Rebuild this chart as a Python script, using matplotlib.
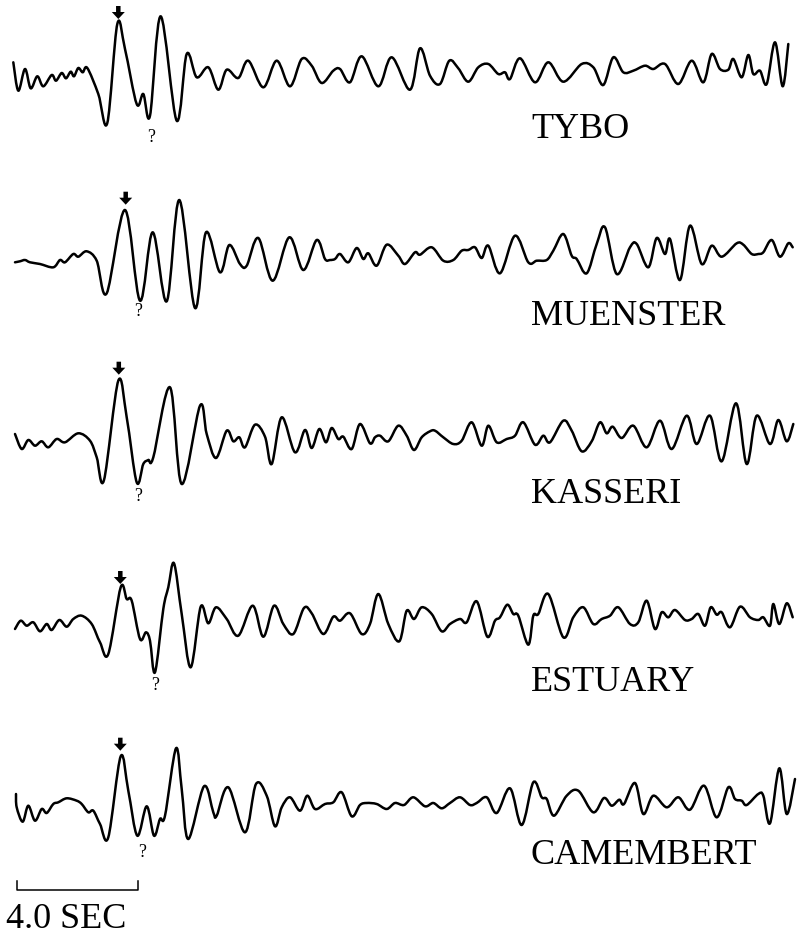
import numpy as np
import matplotlib
matplotlib.use("Agg")
import matplotlib.pyplot as plt
from matplotlib.path import Path
from matplotlib.patches import PathPatch, FancyArrow

# station names (top to bottom)
stations = ["TYBO", "MUENSTER", "KASSERI", "ESTUARY", "CAMEMBERT"]

tybo = np.array([
    [13.3, 63.3], [18.3, 91.7], [25, 70], [30.7, 89.3], [37.3, 77.3], [43.3, 87.3],
    [51.7, 76], [56, 81.7], [61.7, 74], [66, 79.3], [70.7, 72.7], [74, 77.3],
    [78.3, 69], [82.7, 73.3], [87.3, 69], [98.3, 95], [107.3, 124], [117.3, 25],
    [125, 50], [136.7, 105], [143.3, 95], [150, 116.7], [160.7, 17.3], [176.7, 121.7],
    [186.7, 55], [196.7, 78.3], [208.3, 68.3], [218.3, 90.7], [226.7, 70.7], [238.3, 79],
    [248.3, 61.7], [263.3, 88.3], [276.7, 61.7], [290, 87.3], [301.7, 60], [311.7, 66.7],
    [321.7, 84], [333.3, 71.7], [340, 70], [350, 83.3], [361.7, 57.3], [378.3, 87.3],
    [391.7, 58.3], [410, 90.7], [420, 49.3], [430, 76.7], [440, 85], [449.3, 61.7],
    [458.3, 69.3], [468.3, 82.7], [478.3, 68.3], [488.3, 65], [498.3, 75], [505, 73.3],
    [510, 80], [520, 59.3], [535, 83.3], [548.3, 63.3], [563.3, 82.7], [581.7, 65],
    [593.3, 68.3], [603.3, 86], [613.3, 58.3], [623.3, 73.3], [633.3, 71.7], [645, 66.7],
    [653.3, 70], [665, 65], [678.3, 85], [691.7, 61.7], [703.3, 83.3], [711.7, 55],
    [720, 70], [728.3, 70.7], [733.3, 60], [741.7, 78.3], [748.3, 56], [753.3, 75],
    [760, 71.7], [766.7, 85], [775, 43.3], [782.7, 87.3], [788.3, 45],
])

muenster = np.array([
    [15, 263.3], [20, 262.3], [25, 261], [30, 263.3], [40, 265], [53.3, 268.3],
    [60, 261], [65, 263.3], [73.3, 255], [78.3, 257.7], [86.7, 252.3], [96.7, 261.7],
    [106.7, 294.3], [125, 211], [140, 301.7], [152.7, 233.3], [166.7, 302.3], [179.3, 201],
    [195, 309], [206, 233.3], [220, 273.3], [229.3, 246], [240, 265], [246.7, 266.7],
    [258.3, 239], [272.7, 281.7], [289.3, 238.3], [303.3, 271], [316.7, 241], [325, 260],
    [330, 261], [335, 260], [340, 255], [348.3, 263.3], [356.7, 249], [363.3, 260],
    [368.3, 254.3], [376.7, 266.7], [386.7, 245.7], [398.3, 256.7], [405, 265], [415, 253.3],
    [420, 255.7], [431.7, 248.3], [443.3, 261.7], [453.3, 261], [461.7, 251.7], [468.3, 251],
    [475, 248.3], [481.7, 259], [488.3, 246.7], [500, 274.3], [515, 236.7], [528.3, 263.3],
    [536.7, 261.7], [546.7, 261], [553.3, 251.7], [563.3, 235], [571.7, 256.7], [576.7, 260],
    [586.7, 274.3], [596.7, 245], [605, 228.3], [616.7, 275], [630, 248.3], [636.7, 245],
    [648.3, 268.3], [656.7, 239], [665, 255], [670, 240], [680, 281], [690, 226.7],
    [701.7, 265], [711.7, 246.7], [721.7, 257.7], [736.7, 244.3], [743.3, 245.7], [751.7, 255],
    [758.3, 255], [763.3, 253.3], [771.7, 241], [780, 257.7], [788.3, 244.3], [792.7, 248.3],
])

kasseri = np.array([
    [15, 435], [21.7, 450], [28.3, 441], [35, 446.7], [41.7, 442.3], [48.3, 448.3],
    [56.7, 440], [65, 443.3], [78.3, 434.3], [90, 441.7], [96.7, 458.3], [104, 481],
    [118.3, 381.7], [126.7, 418.3], [136.7, 483.3], [143.3, 465], [148.3, 461], [153.3, 458.3],
    [170, 388.3], [181.7, 485], [200, 406.7], [206.7, 435], [216, 459], [226.7, 431.7],
    [233.3, 442.3], [239.3, 438.3], [245, 448.3], [255, 425.7], [265, 437.7], [271.7, 465],
    [281.7, 418.3], [295, 453.3], [305, 431], [311.7, 449], [319.3, 430], [326, 443.3],
    [331.7, 429], [338.3, 440], [343.3, 437.7], [351.7, 450], [360, 425], [370, 444.3],
    [375, 438.3], [380, 436.7], [388.3, 442.3], [398.3, 426.7], [406.7, 436.7], [414, 451],
    [421.7, 438.3], [430, 432.3], [435, 431.7], [443.3, 438.3], [453.3, 445], [461.7, 441.7],
    [471.7, 423.3], [481.7, 446.7], [488.3, 426.7], [496.7, 443.3], [506.7, 440], [515, 436.7],
    [523.3, 423.3], [535, 445.7], [543.3, 436.7], [550, 443.3], [563.3, 421.7], [571.7, 431.7],
    [581.7, 452.3], [591.7, 442.3], [600, 423.3], [606.7, 434.3], [612.7, 427.7], [621.7, 439],
    [633.3, 426.7], [646.7, 448.3], [660, 421.7], [671.7, 450], [686.7, 416.7], [696.7, 445],
    [710, 416.7], [721.7, 462.3], [736, 404.3], [746.7, 465], [756.7, 416.7], [770, 445],
    [778.3, 421], [786.7, 442.3], [793.3, 425],
])

estuary = np.array([
    [15, 630], [20.7, 621.7], [26.7, 626.7], [33.3, 623.3], [40, 632.3], [46.7, 625],
    [51.7, 631], [59.3, 621], [66.7, 627.7], [73.3, 620], [81.7, 616.7], [91.7, 625],
    [100, 643.3], [108.3, 655], [120.7, 588.3], [126.7, 600], [131.7, 601.7], [140, 640],
    [146, 633.3], [150, 641.7], [155, 673.3], [163.3, 610], [168.3, 588.3], [174, 564.3],
    [181.7, 615], [190.7, 668.3], [200.7, 607.7], [208.3, 624.3], [216, 608.3], [226.7, 620],
    [238.3, 636.7], [252.7, 606.7], [263.3, 637.7], [274, 606.7], [283.3, 625], [293.3, 635],
    [304, 609], [311.7, 614.3], [323.3, 635], [333.3, 617.7], [340, 621.7], [350, 614.3],
    [361.7, 635], [370, 625], [378.3, 595], [388.3, 625], [399.3, 642.3], [406.7, 611.7],
    [414, 620], [421.7, 608.3], [431.7, 615], [441.7, 632.3], [450, 625], [460, 620],
    [466.7, 623.3], [476.7, 602.3], [487.3, 637.7], [495, 621.7], [500, 618.3], [507.3, 605.7],
    [513.3, 615], [518.3, 616.7], [528.3, 645.7], [533.3, 616.7], [538.3, 615], [548.3, 595],
    [563.3, 638.3], [573.3, 618.3], [583.3, 608.3], [593.3, 625], [601.7, 620], [610, 616.7],
    [618.3, 608.3], [630, 625], [638.3, 623.3], [646.7, 601.7], [655, 630], [661.7, 613.3],
    [668.3, 618.3], [675, 611], [685, 621], [691.7, 620], [698.3, 615], [705, 626.7],
    [710.7, 608.3], [716.7, 615.7], [721.7, 613.3], [730, 628.3], [740, 607.7], [750, 618.3],
    [758.3, 621], [763.3, 618.3], [770, 626.7], [773.3, 605], [779.3, 625], [786.7, 604.3],
    [792.7, 618.3],
])

camembert = np.array([
    [16, 795], [16.7, 808.3], [22.7, 822.7], [28.3, 806.7], [35, 821.7], [41.7, 810],
    [46.7, 814], [53.3, 805], [58.3, 803.3], [66.7, 799.3], [76.7, 801.7], [81.7, 805],
    [88.3, 813.3], [93.3, 811.7], [100, 825], [108.3, 838.3], [120.7, 757.3], [128.3, 791.7],
    [137.3, 836.7], [146.7, 807.3], [154, 836.7], [160, 820], [165, 816.7], [176, 749.3],
    [181.7, 790], [188.3, 840], [204, 787.3], [213.3, 813.3], [216.7, 816.7], [228.3, 788.3],
    [245, 833.3], [256, 785], [266.7, 796.7], [275, 827.3], [281.7, 808.3], [290, 798.3],
    [300, 811.7], [307.3, 796.7], [315, 810], [325, 805], [333.3, 803.3], [341.7, 793.3],
    [351.7, 817.3], [360, 806], [366.7, 804], [376.7, 805], [386.7, 810], [395, 804],
    [404, 806], [413.3, 798.3], [425, 807.3], [433.3, 804], [441.7, 809.3], [450, 804],
    [460, 798.3], [470, 806], [476.7, 804], [486.7, 798.3], [496.7, 814], [510, 789.3],
    [521.7, 826], [533.3, 783.3], [541.7, 798.3], [546.7, 800], [554, 816.7], [566.7, 796.7],
    [578.3, 791.7], [593.3, 813.3], [604, 799], [611.7, 806.7], [619.3, 800.7], [624, 805],
    [635, 784], [643.3, 815], [653.3, 796.7], [666.7, 808.3], [678.3, 798.3], [690, 810.7],
    [704, 786.7], [716.7, 818.3], [728.3, 788.3], [735, 800], [741.7, 801.7], [746.7, 806],
    [758.3, 795], [763.3, 796.7], [770, 824.3], [779.3, 769.3], [786.7, 815], [795, 780],
])

traces = [tybo, muenster, kasseri, estuary, camembert]

# picked first arrival (arrow) and the doubtful phase (?)
pick_x = [118.3, 125.7, 118.8, 120.3, 120.3]
pick_y = [20, 205.7, 375.7, 585, 751.7]
query_x = [150.7, 138, 138, 155, 141.7]
query_y = [138, 312, 497, 686, 853]

# baseline of each station name
label_base = [138, 325, 503, 691, 864]


def smooth_path(pts):
    # catmull-rom through the picked points, drawn as cubic bezier segments
    verts = [pts[0]]
    codes = [Path.MOVETO]
    n = len(pts)
    for i in range(n - 1):
        p0 = pts[i - 1] if i > 0 else pts[i]
        p1 = pts[i]
        p2 = pts[i + 1]
        p3 = pts[i + 2] if i + 2 < n else pts[i + 1]
        verts += [p1 + (p2 - p0) / 6.0, p2 - (p3 - p1) / 6.0, p2]
        codes += [Path.CURVE4] * 3
    return Path(verts, codes)


fig = plt.figure(figsize=(7.99, 9.37), dpi=100)
ax = fig.add_axes([0, 0, 1, 1])
ax.set_xlim(0, 799)
ax.set_ylim(937, 0)
ax.axis("off")

serif = ["Liberation Serif", "DejaVu Serif"]

for i, name in enumerate(stations):
    ax.add_patch(PathPatch(smooth_path(traces[i]), fc="none", ec="black", lw=1.8,
                           capstyle="round", joinstyle="round"))
    ax.add_patch(FancyArrow(pick_x[i], pick_y[i] - 13, 0, 13, width=4.5, head_width=13,
                            head_length=7, length_includes_head=True, color="black", lw=0))
    ax.text(query_x[i], query_y[i], "?", fontsize=13, family=serif, ha="center", va="center")
    ax.text(531, label_base[i], name, fontsize=26, family=serif, ha="left", va="baseline")

# time scale bar
ax.plot([17, 17, 138, 138], [882, 891, 891, 882], color="black", lw=1.1)
ax.text(6, 928, "4.0 SEC", fontsize=26, family=serif, ha="left", va="baseline")

fig.savefig("out.png", dpi=100)
